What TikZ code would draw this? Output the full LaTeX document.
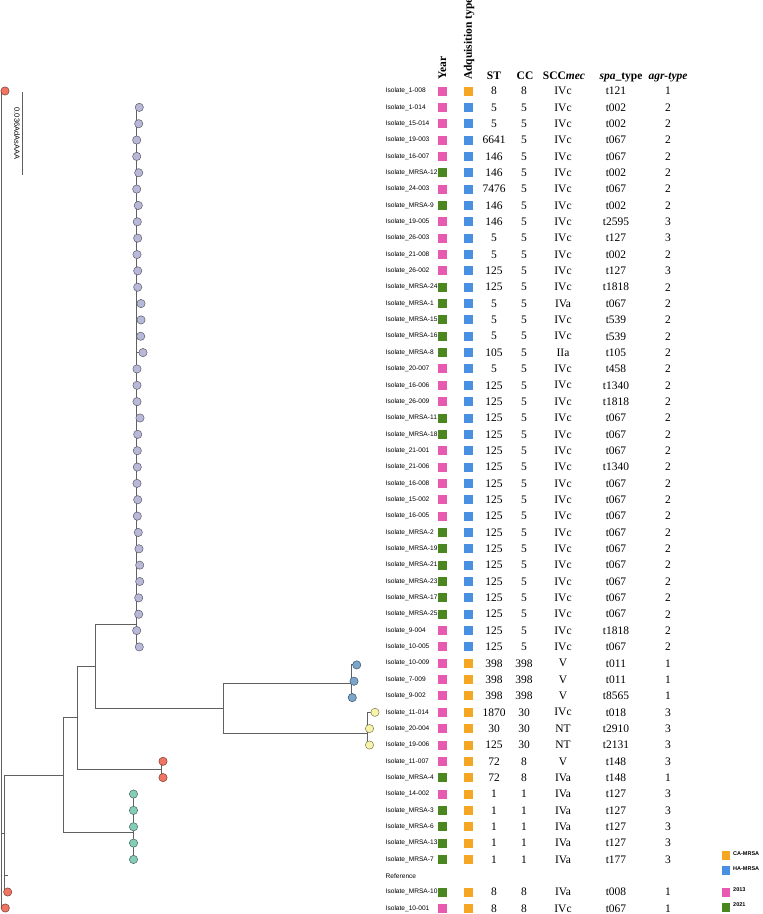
\documentclass[tikz,border=0pt]{standalone}
\usepackage{fontspec}
\setmainfont{Liberation Serif}
\newfontfamily\labelfont{Liberation Sans}
\usetikzlibrary{backgrounds}
\definecolor{y2013}{HTML}{E85AAF}
\definecolor{y2021}{HTML}{4A8720}
\definecolor{acqca}{HTML}{F5A623}
\definecolor{acqha}{HTML}{4A90E2}
\definecolor{treegray}{HTML}{606060}
\definecolor{purp}{HTML}{B8B8D8}
\definecolor{redtip}{HTML}{F07563}
\definecolor{bluetip}{HTML}{7AA6CC}
\definecolor{yeltip}{HTML}{F7F3A8}
\definecolor{tealtip}{HTML}{86CDB8}
\begin{document}
\begin{tikzpicture}[x=1pt,y=-1pt,
  branch/.style={draw=treegray, line width=0.9pt},
  leafdot/.style={circle, draw=#1!50!black, fill=#1, line width=0.5pt, minimum size=8.3pt, inner sep=0pt},
  sq/.style={minimum width=8.6pt, minimum height=9pt, inner sep=0pt},
  lbl/.style={anchor=west, inner sep=0pt, font=\labelfont\fontsize{6.6}{7}\selectfont},
  val/.style={inner sep=0pt, font=\fontsize{11.5}{12}\selectfont},
  hdr/.style={inner sep=0pt, font=\bfseries\fontsize{11.5}{12}\selectfont},
  legtxt/.style={anchor=west, inner sep=0pt, font=\labelfont\bfseries\fontsize{5.5}{6}\selectfont}]
\useasboundingbox (0,0) rectangle (763,914);

% headers
\node[hdr, rotate=90, anchor=west] (hyear) at (442.5,80) {Year};
\node[hdr, rotate=90, anchor=west] (hacq) at (469,80) {Adquisition type};
\node[hdr, anchor=base] (hst) at (494,79) {ST};
\node[hdr, anchor=base] (hcc) at (525,79) {CC};
\node[hdr, anchor=base] (hscc) at (564,79) {SCC\textit{mec}};
\node[hdr, anchor=base] (hspa) at (621,79) {\textit{spa}\_type};
\node[hdr, anchor=base] (hagr) at (668,79) {\textit{agr-type}};

% table rows
\foreach \i/\nm/\yc/\ac/\st/\cc/\scc/\spa/\agr in {
  1/1-008/2013/ca/8/8/IVc/t121/1,
  2/1-014/2013/ha/5/5/IVc/t002/2,
  3/15-014/2013/ha/5/5/IVc/t002/2,
  4/19-003/2013/ha/6641/5/IVc/t067/2,
  5/16-007/2013/ha/146/5/IVc/t067/2,
  6/MRSA-12/2021/ha/146/5/IVc/t002/2,
  7/24-003/2013/ha/7476/5/IVc/t067/2,
  8/MRSA-9/2021/ha/146/5/IVc/t002/2,
  9/19-005/2013/ha/146/5/IVc/t2595/3,
  10/26-003/2013/ha/5/5/IVc/t127/3,
  11/21-008/2013/ha/5/5/IVc/t002/2,
  12/26-002/2013/ha/125/5/IVc/t127/3,
  13/MRSA-24/2021/ha/125/5/IVc/t1818/2,
  14/MRSA-1/2021/ha/5/5/IVa/t067/2,
  15/MRSA-15/2021/ha/5/5/IVc/t539/2,
  16/MRSA-16/2021/ha/5/5/IVc/t539/2,
  17/MRSA-8/2021/ha/105/5/IIa/t105/2,
  18/20-007/2013/ha/5/5/IVc/t458/2,
  19/16-006/2013/ha/125/5/IVc/t1340/2,
  20/26-009/2013/ha/125/5/IVc/t1818/2,
  21/MRSA-11/2021/ha/125/5/IVc/t067/2,
  22/MRSA-18/2021/ha/125/5/IVc/t067/2,
  23/21-001/2013/ha/125/5/IVc/t067/2,
  24/21-006/2013/ha/125/5/IVc/t1340/2,
  25/16-008/2013/ha/125/5/IVc/t067/2,
  26/15-002/2013/ha/125/5/IVc/t067/2,
  27/16-005/2013/ha/125/5/IVc/t067/2,
  28/MRSA-2/2021/ha/125/5/IVc/t067/2,
  29/MRSA-19/2021/ha/125/5/IVc/t067/2,
  30/MRSA-21/2021/ha/125/5/IVc/t067/2,
  31/MRSA-23/2021/ha/125/5/IVc/t067/2,
  32/MRSA-17/2021/ha/125/5/IVc/t067/2,
  33/MRSA-25/2021/ha/125/5/IVc/t067/2,
  34/9-004/2013/ha/125/5/IVc/t1818/2,
  35/10-005/2013/ha/125/5/IVc/t067/2,
  36/10-009/2013/ca/398/398/V/t011/1,
  37/7-009/2013/ca/398/398/V/t011/1,
  38/9-002/2013/ca/398/398/V/t8565/1,
  39/11-014/2013/ca/1870/30/IVc/t018/3,
  40/20-004/2013/ca/30/30/NT/t2910/3,
  41/19-006/2013/ca/125/30/NT/t2131/3,
  42/11-007/2013/ca/72/8/V/t148/3,
  43/MRSA-4/2021/ca/72/8/IVa/t148/1,
  44/14-002/2013/ca/1/1/IVa/t127/3,
  45/MRSA-3/2021/ca/1/1/IVa/t127/3,
  46/MRSA-6/2021/ca/1/1/IVa/t127/3,
  47/MRSA-13/2021/ca/1/1/IVa/t127/3,
  48/MRSA-7/2021/ca/1/1/IVa/t177/3,
  50/MRSA-10/2021/ca/8/8/IVa/t008/1,
  51/10-001/2013/ca/8/8/IVc/t067/1}{
  \pgfmathsetmacro\yy{91+(\i-1)*16.35}
  \node[lbl] (lbl\i) at (385.5,\yy) {Isolate\_\nm};
  \node[sq, fill=y\yc] (yr\i) at (442.5,\yy) {};
  \node[sq, fill=acq\ac] (acq\i) at (468.5,\yy) {};
  \node[val] (st\i) at (494,\yy) {\st};
  \node[val] (cc\i) at (524,\yy) {\cc};
  \node[val] (scc\i) at (563,\yy) {\scc};
  \node[val] (spa\i) at (616,\yy) {\spa};
  \node[val] (agr\i) at (668,\yy) {\agr};
}
\node[lbl] (lbl49) at (385.5,875.8) {Reference};

% tree tips
\node[leafdot=redtip] (rd1) at (5,91) {};
\node[leafdot=redtip] (rd50) at (7.7,892) {};
\node[leafdot=redtip] (rd51) at (5.3,908) {};
\foreach \r/\dx in {2/139.3,3/138.7,4/136.7,5/136.7,6/138.7,7/136.7,8/138.3,9/137.3,
  10/137.7,11/137,12/137.7,13/137.7,14/141,15/141,16/140.7,17/143,18/137,19/137,
  20/137,21/140,22/137.7,23/137.3,24/137.3,25/137,26/137.7,27/137.3,28/138.3,
  29/139,30/139.7,31/139.7,32/138.7,33/138.7,34/136.7,35/139.3}{
  \pgfmathsetmacro\yy{91+(\r-1)*16.35}
  \node[leafdot=purp] (pu\r) at (\dx,\yy) {};
}
\node[leafdot=bluetip] (bl36) at (356.7,664.9) {};
\node[leafdot=bluetip] (bl37) at (354,681.2) {};
\node[leafdot=bluetip] (bl38) at (352.3,697.6) {};
\node[leafdot=yeltip] (ye39) at (375,712.3) {};
\node[leafdot=yeltip] (ye40) at (369.5,728.6) {};
\node[leafdot=yeltip] (ye41) at (369.5,745) {};
\node[leafdot=redtip] (rd42) at (163,761.3) {};
\node[leafdot=redtip] (rd43) at (163,777.6) {};
\foreach \r in {44,...,48}{
  \pgfmathsetmacro\yy{91+(\r-1)*16.35}
  \node[leafdot=tealtip] (te\r) at (133.5,\yy) {};
}

% inner nodes
\coordinate (root) at (1.7,500);
\coordinate (na) at (4,833);
\coordinate (ref) at (8.3,875.8);
\coordinate (nb) at (63.3,775);
\coordinate (nc) at (77.7,717);
\coordinate (nd) at (95.7,666);
\coordinate (nf) at (223,708);
\coordinate (npurp) at (136.7,624);
\coordinate (nblue) at (351.5,683);
\coordinate (nyel) at (367,733);
\coordinate (nred) at (161,769);
\coordinate (nteal) at (133,832);

\begin{scope}[on background layer]
\draw[branch] (root) |- (rd1.center);
\draw[branch] (root) |- (rd51.center);
\draw[branch] (root) |- (na);
\draw[branch] (na) |- (rd50.center);
\draw[branch] (na) |- (ref);
\draw[branch] (na) |- (nb);
\draw[branch] (nb) |- (nc);
\draw[branch] (nb) |- (nteal);
\draw[branch] (nc) |- (nd);
\draw[branch] (nc) |- (nred);
\draw[branch] (nd) |- (npurp);
\draw[branch] (nd) |- (nf);
\draw[branch] (nf) |- (nblue);
\draw[branch] (nf) |- (nyel);
\foreach \r in {2,...,35} \draw[branch] (npurp) |- (pu\r.center);
\foreach \r in {36,37,38} \draw[branch] (nblue) |- (bl\r.center);
\foreach \r in {39,40,41} \draw[branch] (nyel) |- (ye\r.center);
\foreach \r in {42,43} \draw[branch] (nred) |- (rd\r.center);
\foreach \r in {44,...,48} \draw[branch] (nteal) |- (te\r.center);
\end{scope}

% scale bar
\coordinate (sbtop) at (22,92);
\coordinate (sbbot) at (22,175);
\draw[branch, line width=0.7pt] (sbtop) -- (sbbot);
\node[rotate=-90, anchor=north, inner sep=1pt, font=\labelfont\fontsize{7.5}{8}\selectfont] (sblabel) at (21,133.5) {0.036AdAsAAA};

% legend
\node[sq, fill=acqca] (legca) at (726,855.3) {};
\node[legtxt] (legcatxt) at (733,853.5) {CA-MRSA};
\node[sq, fill=acqha] (legha) at (726,870.5) {};
\node[legtxt] (leghatxt) at (733,868.3) {HA-MRSA};
\node[sq, fill=y2013] (leg13) at (726,892) {};
\node[legtxt] (leg13txt) at (733,890) {2013};
\node[sq, fill=y2021] (leg21) at (726,907.5) {};
\node[legtxt] (leg21txt) at (733,904.5) {2021};
\end{tikzpicture}
\end{document}
